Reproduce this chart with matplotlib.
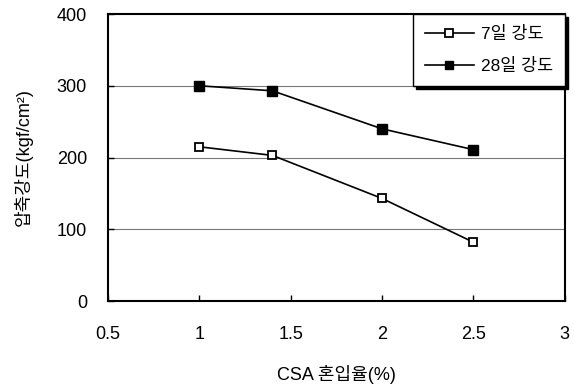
import matplotlib
matplotlib.use('Agg')
import matplotlib.pyplot as plt

plt.rcParams['font.family'] = ['Liberation Sans', 'Noto Sans CJK KR', 'DejaVu Sans']

# ── Dati ─────────────────────────────────────────────
csa = [1.0, 1.4, 2.0, 2.5]
forza_7 = [215, 203, 143, 82]
forza_28 = [300, 293, 240, 211]
xticks = [0.5, 1, 1.5, 2, 2.5, 3]
xtick_labels = ['0.5', '1', '1.5', '2', '2.5', '3']
yticks = [0, 100, 200, 300, 400]

fig = plt.figure(figsize=(5.74, 3.89), dpi=100)
ax = fig.add_axes([0.188, 0.226, 0.796, 0.738])

ax.plot(csa, forza_7, color='black', lw=1.2, marker='s', ms=6,
        mfc='white', mec='black', mew=1.3, label='7일 강도', zorder=3)
ax.plot(csa, forza_28, color='black', lw=1.2, marker='s', ms=6.5,
        mfc='black', mec='black', label='28일 강도', zorder=3)

ax.set_xlim(0.5, 3)
ax.set_ylim(0, 400)
ax.set_xticks(xticks)
ax.set_xticklabels(xtick_labels)
ax.set_yticks(yticks)
for y in [100, 200, 300]:
    ax.axhline(y, color='#777777', lw=0.8, zorder=1)

ax.tick_params(axis='both', direction='in', length=4, width=1, labelsize=13)
ax.tick_params(axis='x', pad=18)
ax.tick_params(axis='y', pad=15)
for s in ax.spines.values():
    s.set_linewidth(1.5)

ax.set_xlabel('CSA 혼입율(%)', fontsize=13, labelpad=16)
ax.set_ylabel('압축강도(kgf/cm²)', fontsize=13, labelpad=17)

leg = ax.legend(loc='upper right', bbox_to_anchor=(1.0, 1.0), frameon=True,
                fancybox=False, shadow={'color': 'black', 'alpha': 1.0},
                fontsize=12.5, handlelength=2.8, handletextpad=0.4,
                borderpad=0.7, labelspacing=0.9, borderaxespad=0,
                edgecolor='black', framealpha=1, markerscale=0.85)
leg.get_frame().set_linewidth(1.0)

fig.savefig('out.png', dpi=100)
